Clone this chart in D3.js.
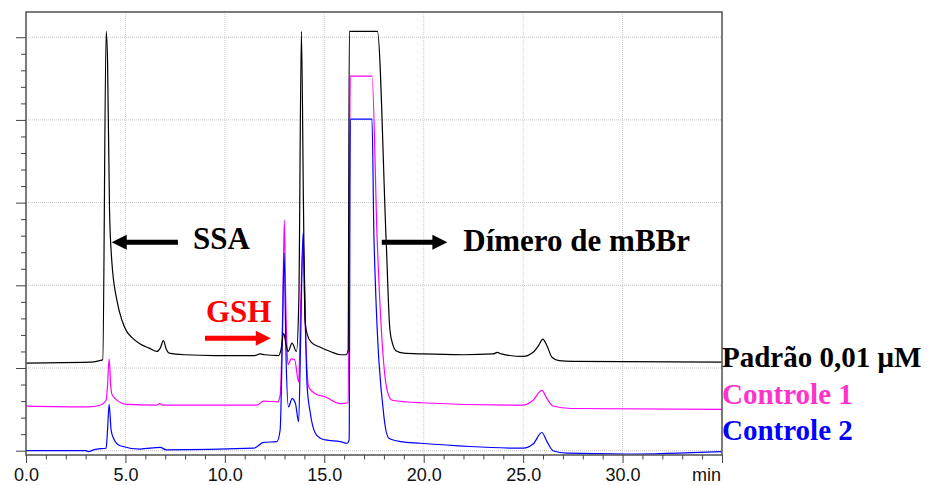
<!DOCTYPE html>
<html lang='pt'>
<head>
<meta charset='utf-8'>
<title>Cromatograma GSH</title>
<script src='https://cdn.jsdelivr.net/npm/d3@7/dist/d3.min.js'></script>
<style>
  body { margin: 0; background: #fff; }
  .ann { font-family: 'Liberation Serif', 'Times New Roman', serif; font-weight: bold; }
</style>
</head>
<body>
<svg id='svg' width='933' height='485'></svg>
<script>
// retention time (min) and detector signal (grid units)
var padraoT = [0, 3.2, 3.7, 3.86, 4.03, 4.10, 4.20, 4.31, 4.57, 4.82, 5.07, 5.32, 5.74, 6.2, 6.58, 6.75, 6.91, 7.05, 7.2, 8.0, 9.5, 11.5, 11.78, 12.0, 12.7, 12.82, 12.96, 13.08, 13.18, 13.38, 13.6, 13.72, 13.85, 13.95, 14.03, 14.15, 14.35, 14.8, 15.3, 15.8, 16.1, 16.2, 16.26, 17.67, 18.11, 18.3, 18.45, 18.6, 19.0, 19.95, 22.0, 23.5, 23.7, 23.9, 25.0, 25.5, 25.8, 25.98, 26.2, 26.45, 26.8, 27.5, 35];
var padraoV = [1.06, 1.07, 1.09, 1.10, 5.07, 4.72, 2.91, 2.31, 1.82, 1.58, 1.44, 1.37, 1.29, 1.24, 1.20, 1.24, 1.33, 1.23, 1.18, 1.16, 1.15, 1.15, 1.17, 1.16, 1.15, 1.22, 1.42, 1.28, 1.20, 1.30, 1.20, 1.82, 5.07, 3.03, 1.58, 1.40, 1.31, 1.25, 1.20, 1.16, 1.16, 1.22, 5.07, 5.07, 2.55, 1.46, 1.28, 1.21, 1.18, 1.17, 1.16, 1.17, 1.19, 1.17, 1.14, 1.19, 1.28, 1.35, 1.27, 1.13, 1.09, 1.08, 1.07];

var controle1T = [0, 3.14, 3.73, 4.03, 4.1, 4.18, 4.26, 4.31, 4.48, 5.07, 6.58, 6.71, 6.91, 11.6, 11.95, 12.65, 12.78, 12.92, 12.99, 13.06, 13.14, 13.18, 13.34, 13.51, 13.71, 13.82, 13.93, 14.05, 14.21, 14.55, 15.06, 15.8, 16.2, 16.31, 17.4, 17.66, 18.16, 18.41, 19.84, 25.0, 25.5, 25.94, 26.2, 26.5, 27.4, 35];
var controle1V = [0.54, 0.53, 0.55, 0.61, 0.79, 1.11, 0.79, 0.69, 0.63, 0.56, 0.55, 0.57, 0.55, 0.55, 0.60, 0.59, 0.67, 1.82, 2.79, 1.82, 1.16, 1.04, 1.11, 1.10, 0.83, 1.82, 2.49, 1.46, 0.77, 0.69, 0.65, 0.57, 0.58, 4.53, 4.53, 2.55, 0.73, 0.61, 0.58, 0.55, 0.61, 0.73, 0.63, 0.54, 0.51, 0.50];

var controle2T = [0, 3.0, 3.14, 3.4, 3.56, 4.03, 4.1, 4.18, 4.28, 4.4, 4.73, 5.74, 6.75, 7.05, 11.45, 11.95, 12.62, 12.78, 12.9, 12.98, 13.08, 13.2, 13.38, 13.55, 13.71, 13.82, 13.93, 14.13, 14.3, 14.55, 14.8, 15.06, 15.8, 16.15, 16.25, 16.31, 17.4, 17.5, 18.0, 18.25, 18.83, 19.84, 25.0, 25.5, 25.94, 26.2, 26.5, 27.2, 30.2, 35];
var controle2V = [0, 0, -0.01, 0.01, 0.02, 0.03, 0.25, 0.56, 0.25, 0.15, 0.06, 0.02, 0.04, 0.01, 0.03, 0.10, 0.11, 0.25, 1.46, 2.39, 1.10, 0.53, 0.63, 0.57, 0.35, 1.46, 2.63, 0.81, 0.45, 0.21, 0.15, 0.13, 0.11, 0.09, 0.13, 4.01, 4.01, 2.55, 0.41, 0.15, 0.11, 0.09, 0.03, 0.08, 0.22, 0.11, 0, -0.03, -0.04, -0.01];

var seriesNames = ['Padrão 0,01 μM', 'Controle 1', 'Controle 2'];
var lineColors = ['#000000', '#ff00ff', '#0000ff'];
var labelColors = ['#000000', '#ff33cc', '#0000ff'];
var labelLevels = [1.01, 0.57, 0.13];

var xMajor = [0, 5, 10, 15, 20, 25, 30];
var yMajor = [0, 1, 2, 3, 4, 5];

var svg = d3.select('#svg');
var plotL = 26, plotT = 12, plotR = 722, plotB = 455;
var sansFont = "'Liberation Sans', Arial, sans-serif";

var x = d3.scaleLinear().domain([0, 35]).range([plotL, plotR]);
var y = d3.scaleLinear().domain([-0.052, 5.305]).range([plotB, plotT]);

// grid
svg.append('g').selectAll('line').data(xMajor.slice(1)).enter().append('line')
  .attr('x1', d => x(d)).attr('x2', d => x(d)).attr('y1', plotT).attr('y2', plotB)
  .attr('stroke', '#cfcfcf').attr('stroke-dasharray', '1,1');
svg.append('g').selectAll('line').data(yMajor).enter().append('line')
  .attr('x1', plotL).attr('x2', plotR).attr('y1', d => y(d)).attr('y2', d => y(d))
  .attr('stroke', '#c4c4c4').attr('stroke-dasharray', '1,1');

// traces
var traces = [
  d3.zip(padraoT, padraoV),
  d3.zip(controle1T, controle1V),
  d3.zip(controle2T, controle2V)
];
var line = d3.line().x(d => x(d[0])).y(d => y(d[1])).curve(d3.curveMonotoneX);
[1, 2, 0].forEach(function(i) {
  svg.append('path').datum(traces[i])
    .attr('d', line).attr('fill', 'none')
    .attr('stroke', lineColors[i]).attr('stroke-width', 1.2);
});

// frame
svg.append('rect').attr('x', plotL).attr('y', plotT)
  .attr('width', plotR - plotL).attr('height', plotB - plotT)
  .attr('fill', 'none').attr('stroke', '#5a5a5a').attr('stroke-width', 1.6);

// x axis
var xAxis = svg.append('g').attr('transform', 'translate(0,' + plotB + ')')
  .call(d3.axisBottom(x).tickValues(d3.range(0, 36, 1)).tickSize(5)
    .tickFormat(d => (d % 5 === 0 && d < 35) ? d3.format('.1f')(d) : ''));
xAxis.attr('font-size', 18).attr('font-family', sansFont);
xAxis.select('.domain').remove();
xAxis.selectAll('.tick line').attr('stroke', '#444')
  .attr('y2', d => d % 5 === 0 ? 8 : 4.5);
xAxis.selectAll('.tick text').attr('dy', 0).attr('y', 25.7).attr('fill', '#111')
  .style('font-size', '18px').style('font-family', sansFont);
svg.append('text').attr('x', plotR - 1).attr('y', plotB + 25.7)
  .attr('text-anchor', 'end')
  .style('font-family', sansFont).style('font-size', '18px')
  .attr('fill', '#111').text('min');

// y axis
var yAxis = svg.append('g').attr('transform', 'translate(' + plotL + ',0)')
  .call(d3.axisLeft(y).tickValues(d3.range(0, 26, 1).map(d => d / 5)).tickSize(5).tickFormat(''));
yAxis.select('.domain').remove();
yAxis.selectAll('.tick line').attr('stroke', '#444')
  .attr('x2', d => Math.abs(d - Math.round(d)) < 1e-6 ? -10 : -5);

// arrows
function arrow(x0, x1, yv, color, thick) {
  var ya = y(yv), xa = x(x0), xb = x(x1);
  var dir = xb > xa ? 1 : -1, head = 15, half = 7.5;
  var xh = xb - dir * head;
  var pts = [[xa, ya - thick / 2], [xh, ya - thick / 2], [xh, ya - half], [xb, ya],
             [xh, ya + half], [xh, ya + thick / 2], [xa, ya + thick / 2]];
  svg.append('polygon').attr('points', pts.map(p => p.join(',')).join(' ')).attr('fill', color);
}
arrow(7.64, 4.31, 2.52, '#000', 5);
arrow(17.89, 21.19, 2.52, '#000', 5);
arrow(9.0, 12.31, 1.36, '#ff0000', 5);

svg.append('text').attr('class', 'ann').attr('x', x(8.4)).attr('y', y(2.44))
  .style('font-size', '31px').attr('fill', '#000').text('SSA');
svg.append('text').attr('class', 'ann').attr('x', x(21.99)).attr('y', y(2.42))
  .style('font-size', '31px').attr('fill', '#000').text('Dímero de mBBr');
svg.append('text').attr('class', 'ann').attr('x', x(9.05)).attr('y', y(1.56))
  .style('font-size', '31px').attr('fill', '#ff0000').text('GSH');

// series labels
svg.selectAll('.lab').data(seriesNames).enter().append('text')
  .attr('class', 'ann lab').attr('x', plotR).attr('y', (d, i) => y(labelLevels[i]))
  .style('font-size', '29px').attr('fill', (d, i) => labelColors[i]).text(d => d);
</script>
</body>
</html>
